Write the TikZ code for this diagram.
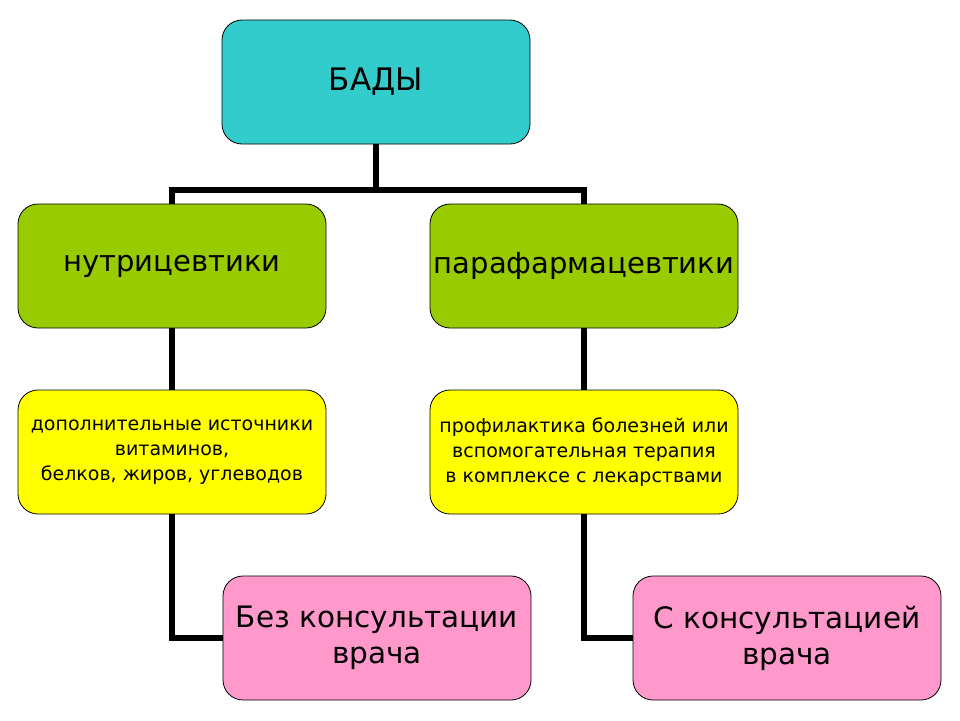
\documentclass[tikz,border=0pt]{standalone}
\usepackage{fontspec}
\setmainfont{DejaVu Sans}
\definecolor{badycyan}{HTML}{33CCCC}
\definecolor{groupgreen}{HTML}{99CC00}
\definecolor{notelemon}{HTML}{FFFF00}
\definecolor{advicepink}{HTML}{FF99CC}
\tikzset{
	box/.style={draw=black,line width=0.8pt,rounded corners=20pt,minimum width=308pt,minimum height=124pt,inner sep=2pt,align=center},
	conn/.style={line width=5.5pt},
}
\begin{document}
\begin{tikzpicture}[x=1pt,y=-1pt]
	\useasboundingbox (0,0) rectangle (960,720);
		\node[box,fill=badycyan,font=\fontsize{31}{37}\selectfont] (bady) at (376,82) {БАДЫ};
		\node[box,fill=groupgreen,font=\fontsize{29}{35}\selectfont] (nutri) at (172,266) {нутрицевтики};
		\node[box,fill=groupgreen,font=\fontsize{29}{35}\selectfont] (para) at (584,266) {парафармацевтики};
		\node[box,fill=notelemon,font=\fontsize{19}{25}\selectfont] (dop) at (172,452) {дополнительные источники\\витаминов,\\белков, жиров, углеводов};
		\node[box,fill=notelemon,font=\fontsize{19}{25}\selectfont] (prof) at (584,452) {профилактика болезней или\\вспомогательная терапия\\в комплексе с лекарствами};
		\node[box,fill=advicepink,font=\fontsize{29.5}{36}\selectfont] (bez) at (377,638) {Без консультации\\врача};
		\node[box,fill=advicepink,font=\fontsize{29.5}{36}\selectfont] (skons) at (787,638) {С консультацией\\врача};
		\coordinate (fork) at (376,190);
	\draw[conn] (bady.south) -- (fork);
	\draw[conn] (nutri.north) |- (fork) -| (para.north);
	\draw[conn] (nutri.south) -- (dop.north);
	\draw[conn] (para.south) -- (prof.north);
	\draw[conn] (dop.south) |- (bez.west);
	\draw[conn] (prof.south) |- (skons.west);
	\end{tikzpicture}
\end{document}
